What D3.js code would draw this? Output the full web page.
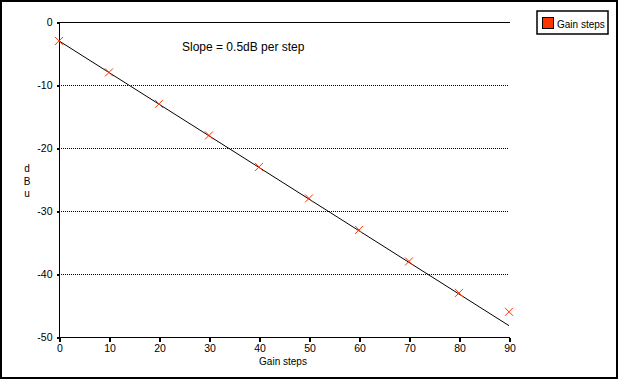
<!DOCTYPE html>
<html lang="en">
<head>
<meta charset="UTF-8">
<title>Gain steps vs dBu</title>
<style>
  body { margin: 0; background: #fff; }
  text { font-family: "Liberation Sans", Arial, sans-serif; fill: #000; }
</style>
</head>
<body>
<div id="chart"></div>
<script src="https://d3js.org/d3.v7.min.js"></script>
<script>
// Data
var steps = [0, 10, 20, 30, 40, 50, 60, 70, 80, 90];
var dbu = [-3, -8, -13, -18, -23, -28, -33, -38, -43, -46];
// straight-line fit drawn through the points
var fitSteps = [0, 90];
var fitDbu = [-3, -48.2];
var xTicks = [0, 10, 20, 30, 40, 50, 60, 70, 80, 90];
var yTicks = [0, -10, -20, -30, -40, -50];
var gridTicks = [-10, -20, -30, -40];

var width = 620, height = 380;
var red = "#ff3300";

var svg = d3.select("#chart").append("svg")
    .attr("width", width)
    .attr("height", height);

// outer frame
svg.append("rect")
    .attr("x", 1).attr("y", 1)
    .attr("width", 616).attr("height", 377)
    .attr("fill", "none")
    .attr("stroke", "#000")
    .attr("stroke-width", 2);

var x = d3.scaleLinear().domain([0, 90]).range([59, 509]);
var y = d3.scaleLinear().domain([-50, 0]).range([337, 22]);

// dotted gridlines
svg.append("g").selectAll("line")
    .data(gridTicks)
    .enter()
    .append("line")
    .attr("x1", x(0)).attr("x2", x(90))
    .attr("y1", d => Math.round(y(d)) + 0.5)
    .attr("y2", d => Math.round(y(d)) + 0.5)
    .attr("stroke", "#000")
    .attr("stroke-dasharray", "1,1")
    .attr("shape-rendering", "crispEdges");

// solid line at the top (0 dBu)
svg.append("line")
    .attr("x1", x(0)).attr("x2", x(90) + 1)
    .attr("y1", y(0) + 0.5).attr("y2", y(0) + 0.5)
    .attr("stroke", "#000")
    .attr("stroke-width", 1.3)
    .attr("shape-rendering", "crispEdges");

// y axis
var yAxis = svg.append("g")
    .attr("transform", "translate(" + (x(0) + 0.5) + ",0.5)")
    .call(d3.axisLeft(y).tickValues(yTicks).tickSize(3).tickPadding(4)
        .tickFormat(d => d === 0 ? "0" : "-" + Math.abs(d)));

// x axis
var xAxis = svg.append("g")
    .attr("transform", "translate(0.5," + (y(-50) + 0.5) + ")")
    .call(d3.axisBottom(x).tickValues(xTicks).tickSize(4).tickPadding(3));

[yAxis, xAxis].forEach(function (g) {
    g.select(".domain").attr("stroke-width", 1.3).attr("shape-rendering", "crispEdges");
    g.selectAll(".tick line").attr("stroke-width", 1.3).attr("shape-rendering", "crispEdges");
    g.selectAll("text")
        .attr("font-family", "Liberation Sans, Arial, sans-serif")
        .attr("font-size", 10.5)
        .attr("fill", "#000");
});
yAxis.select(".domain").attr("d", "M0," + y(-50) + "V" + y(0));
xAxis.select(".domain").attr("d", "M" + x(0) + ",0H" + x(90));

// fitted line
var line = d3.line()
    .x(d => x(d[0]))
    .y(d => y(d[1]));
svg.append("path")
    .datum(d3.zip(fitSteps, fitDbu))
    .attr("d", line)
    .attr("fill", "none")
    .attr("stroke", "#000")
    .attr("stroke-width", 1);

// x markers
var s = 4;
svg.append("g").selectAll("path")
    .data(d3.zip(steps, dbu))
    .enter()
    .append("path")
    .attr("d", d => {
        var cx = x(d[0]), cy = y(d[1]);
        return "M" + (cx - s) + "," + (cy - s) + "L" + (cx + s) + "," + (cy + s) +
               "M" + (cx - s) + "," + (cy + s) + "L" + (cx + s) + "," + (cy - s);
    })
    .attr("stroke", red)
    .attr("stroke-width", 1)
    .attr("fill", "none");

// annotation
svg.append("text")
    .attr("x", 182).attr("y", 51)
    .attr("font-size", 12)
    .text("Slope = 0.5dB per step");

// axis titles
svg.append("text")
    .attr("x", 283).attr("y", 365)
    .attr("text-anchor", "middle")
    .attr("font-size", 10)
    .text("Gain steps");

svg.append("g").selectAll("text")
    .data(["d", "B", "u"])
    .enter()
    .append("text")
    .attr("x", 27)
    .attr("y", (d, i) => 172 + i * 12.5)
    .attr("text-anchor", "middle")
    .attr("font-size", 10)
    .text(d => d);

// legend
var legend = svg.append("g");
legend.append("rect")
    .attr("x", 537).attr("y", 11)
    .attr("width", 71).attr("height", 23)
    .attr("fill", "#fff")
    .attr("stroke", "#000")
    .attr("stroke-width", 1.5);
legend.append("rect")
    .attr("x", 542.5).attr("y", 17.5)
    .attr("width", 11).attr("height", 11)
    .attr("fill", red)
    .attr("stroke", "#000")
    .attr("stroke-width", 1);
legend.append("text")
    .attr("x", 557).attr("y", 27.5)
    .attr("font-size", 10)
    .text("Gain steps");
</script>
</body>
</html>
